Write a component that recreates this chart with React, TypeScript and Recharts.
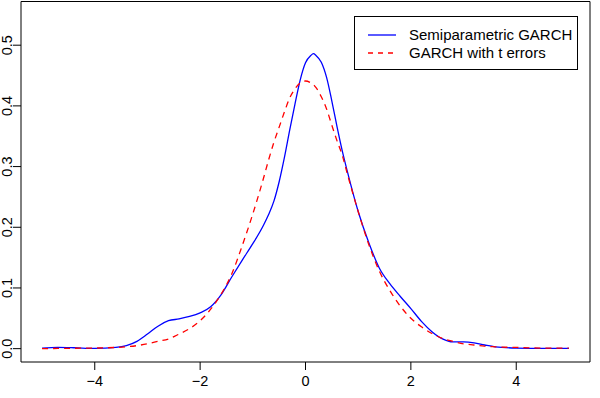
import React from 'react';
import { LineChart, Line, XAxis, YAxis, ReferenceArea } from 'recharts';

const xGrid = [
  -5, -4.7, -4.4, -4.0, -3.6, -3.4, -3.2, -3.0, -2.8, -2.6, -2.4, -2.2, -2.0, -1.8, -1.6, -1.4, -1.2,
  -1.0, -0.8, -0.7, -0.6, -0.5, -0.4, -0.3, -0.2, -0.1, 0, 0.1, 0.15, 0.2, 0.3, 0.4, 0.5, 0.6, 0.7, 0.8, 1.0, 1.2,
  1.4, 1.6, 1.8, 2.0, 2.2, 2.4, 2.6, 2.8, 3.0, 3.2, 3.4, 3.6, 4.0, 4.5, 5.0,
];

const semiparametric = [
  0.001, 0.002, 0.0015, 0.0003, 0.002, 0.005, 0.012, 0.024, 0.037, 0.046, 0.049, 0.053, 0.059, 0.069, 0.089, 0.118, 0.146,
  0.173, 0.203, 0.221, 0.243, 0.275, 0.315, 0.36, 0.403, 0.443, 0.471, 0.483, 0.486, 0.483, 0.472, 0.447, 0.408, 0.365, 0.325, 0.29, 0.226, 0.175,
  0.133, 0.107, 0.086, 0.066, 0.045, 0.028, 0.016, 0.011, 0.011, 0.0095, 0.006, 0.003, 0.001, 0.0005, 0.0005,
];

const garchT = [
  0.0, 0.0003, 0.0006, 0.001, 0.002, 0.003, 0.005, 0.008, 0.012, 0.016, 0.024, 0.033, 0.046, 0.065, 0.09, 0.123, 0.17,
  0.222, 0.28, 0.311, 0.34, 0.365, 0.39, 0.413, 0.428, 0.438, 0.441, 0.438, 0.435, 0.43, 0.415, 0.395, 0.368, 0.342, 0.318, 0.286, 0.226, 0.172,
  0.128, 0.096, 0.07, 0.05, 0.036, 0.025, 0.017, 0.012, 0.008, 0.006, 0.004, 0.003, 0.002, 0.001, 0.001,
];

const xTicks = [-4, -2, 0, 2, 4];
const yTicks = [0, 0.1, 0.2, 0.3, 0.4, 0.5];
const seriesNames = ['Semiparametric GARCH', 'GARCH with t errors'];
const seriesColors = ['#0000FF', '#FF0000'];

const data = xGrid.map((x, i) => ({ x, semi: semiparametric[i], tdist: garchT[i] }));

const FONT = '"Liberation Sans", Arial, Helvetica, sans-serif';
const FS = 15;
const AXFS = 14.5;

const fmt = (v: number) => (v < 0 ? '\u2212' + Math.abs(v) : String(v));

function XTick(props: any) {
  const { x, y, payload } = props;
  return (
    <text x={x} y={y + 14} textAnchor="middle" fontFamily={FONT} fontSize={AXFS} fill="#000">
      {fmt(payload.value)}
    </text>
  );
}

function YTick(props: any) {
  const { x, y, payload } = props;
  const tx = x + 1.5;
  return (
    <text
      x={tx}
      y={y}
      transform={`rotate(-90 ${tx} ${y})`}
      textAnchor="middle"
      fontFamily={FONT}
      fontSize={AXFS}
      fill="#000"
    >
      {Number(payload.value).toFixed(1)}
    </text>
  );
}

function LegendBox() {
  return (
    <div
      style={{
        position: 'absolute',
        left: 354,
        top: 16,
        width: 224,
        height: 54,
        boxSizing: 'border-box',
        border: '1px solid #000',
        background: '#fff',
        fontFamily: FONT,
        fontSize: FS,
      }}
    >
      {seriesNames.map((name, i) => (
        <div key={name} style={{ position: 'absolute', left: 0, top: 9 + i * 18, height: 18, width: 222 }}>
          <svg width={40} height={18} style={{ position: 'absolute', left: 12, top: 0 }}>
            <line
              x1={1}
              x2={29}
              y1={9}
              y2={9}
              stroke={seriesColors[i]}
              strokeWidth={1.3}
              strokeDasharray={i === 1 ? '5 5' : undefined}
            />
          </svg>
          <span style={{ position: 'absolute', left: 54, top: 0, lineHeight: '18px', whiteSpace: 'nowrap' }}>{name}</span>
        </div>
      ))}
    </div>
  );
}

export default function App() {
  return (
    <div style={{ position: 'absolute', left: 0, top: 0, width: 600, height: 398, background: '#fff' }}>
      <LineChart
        width={600}
        height={398}
        data={data}
        margin={{ top: 1.5, right: 10, bottom: 0, left: 0 }}
      >
        <XAxis
          dataKey="x"
          type="number"
          domain={[-5.4, 5.4]}
          ticks={xTicks}
          allowDataOverflow
          axisLine={false}
          tickLine={{ stroke: '#000' }}
          tickSize={8}
          tickMargin={2}
          height={36}
          tick={<XTick />}
          interval={0}
        />
        <YAxis
          type="number"
          domain={[-0.022, 0.572]}
          ticks={yTicks}
          allowDataOverflow
          axisLine={false}
          tickLine={{ stroke: '#000' }}
          tickSize={8}
          tickMargin={2}
          width={21}
          tick={<YTick />}
          interval={0}
        />
        <ReferenceArea x1={-5.4} x2={5.4} y1={-0.022} y2={0.572} fill="none" stroke="#000" strokeWidth={1} ifOverflow="visible" />
        <Line
          type="monotone"
          dataKey="semi"
          name={seriesNames[0]}
          stroke={seriesColors[0]}
          strokeWidth={1.3}
          dot={false}
          isAnimationActive={false}
        />
        <Line
          type="monotone"
          dataKey="tdist"
          name={seriesNames[1]}
          stroke={seriesColors[1]}
          strokeWidth={1.3}
          strokeDasharray="6 5"
          dot={false}
          isAnimationActive={false}
        />
      </LineChart>
      <LegendBox />
    </div>
  );
}
